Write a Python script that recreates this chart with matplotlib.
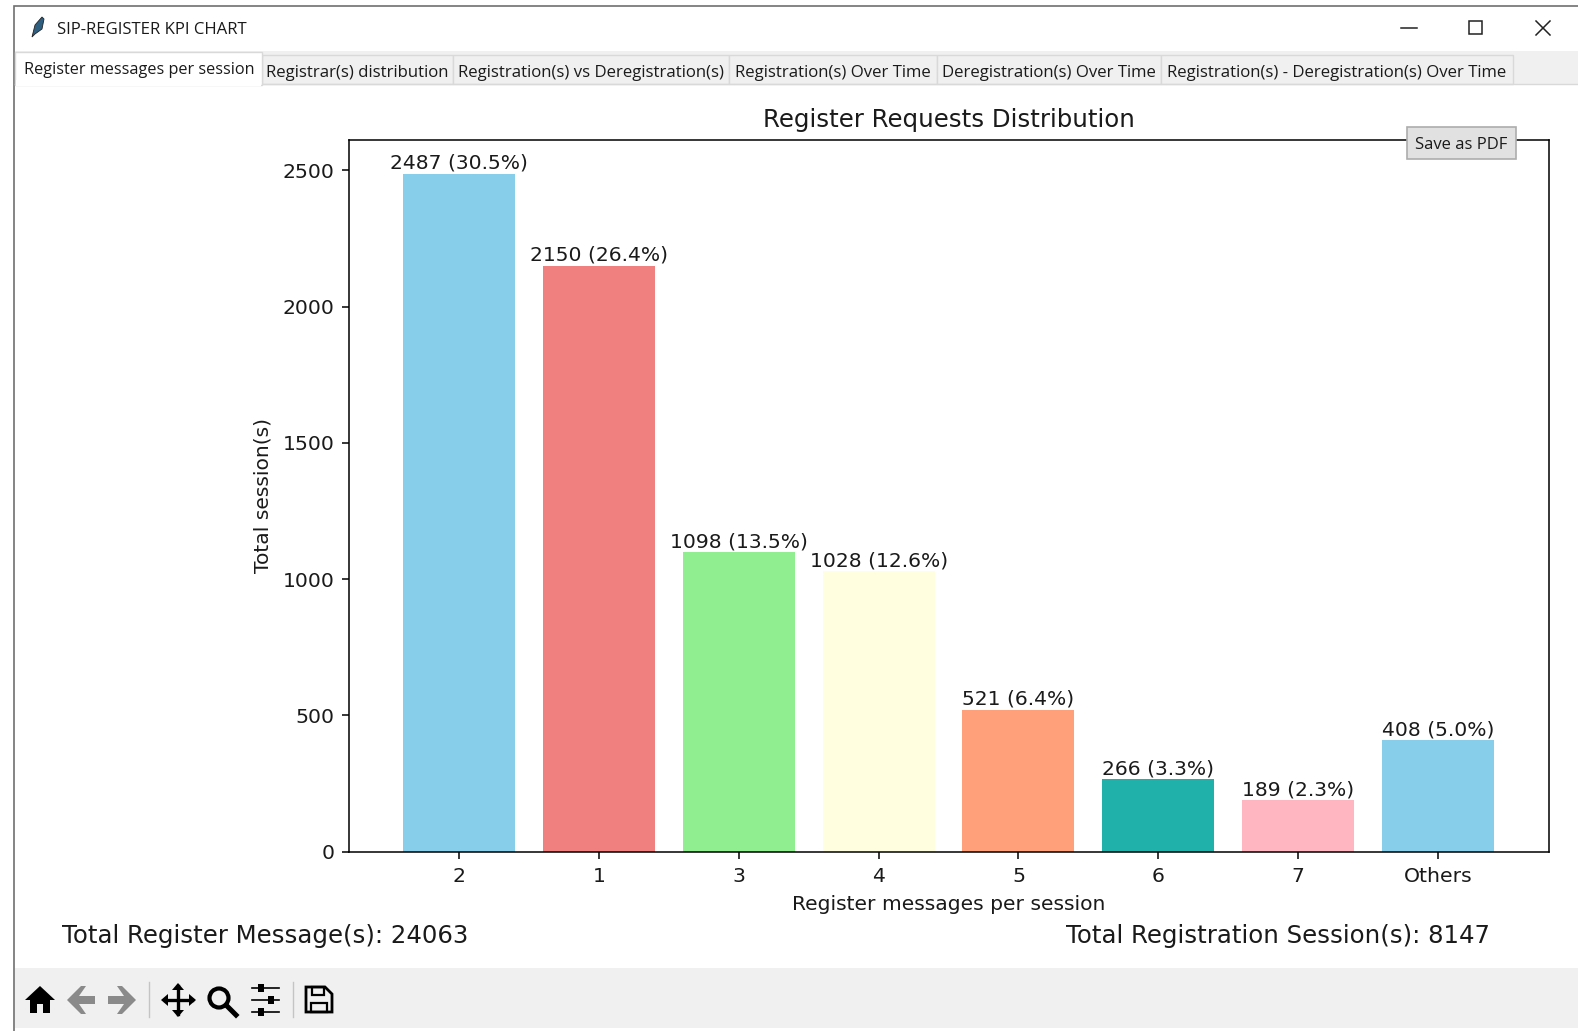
import matplotlib
matplotlib.use("Agg")
import matplotlib.pyplot as plt
from matplotlib.patches import Rectangle, Polygon, Circle

W, H = 1578, 1031

categories = ["2", "1", "3", "4", "5", "6", "7", "Others"]
sessions = [2487, 2150, 1098, 1028, 521, 266, 189, 408]
percents = [30.5, 26.4, 13.5, 12.6, 6.4, 3.3, 2.3, 5.0]
bar_colors = ["skyblue", "lightcoral", "lightgreen", "lightyellow",
              "lightsalmon", "lightseagreen", "lightpink", "skyblue"]
yticks = [0, 500, 1000, 1500, 2000, 2500]
total_messages = 24063
total_sessions = 8147

# tab label, left edge, right edge
tabs = [("Registrar(s) distribution", 262, 453),
        ("Registration(s) vs Deregistration(s)", 453, 729),
        ("Registration(s) Over Time", 729, 937),
        ("Deregistration(s) Over Time", 937, 1161),
        ("Registration(s) - Deregistration(s) Over Time", 1161, 1513)]

UI_FONT = ["Open Sans", "DejaVu Sans"]
INK = "#1a1a1a"

fig = plt.figure(figsize=(W / 100, H / 100), dpi=100)

# window chrome lives in an axes measured in pixels
ui = fig.add_axes([0, 0, 1, 1], zorder=0)
ui.set_xlim(0, W)
ui.set_ylim(H, 0)
ui.axis("off")

ui.add_patch(Rectangle((14, 6), W, H, fc="white", ec="#707070", lw=1.2))
ui.add_patch(Rectangle((15, 51), W, 33, fc="#f0f0f0", ec="none"))
ui.add_patch(Rectangle((15, 84), W, 884, fc="white", ec="none"))
ui.plot([15, W], [84, 84], color="#d9d9d9", lw=1)

# title bar
ui.add_patch(Polygon([[32, 37], [35, 25], [42, 17], [44, 19], [42, 29], [35, 34]],
                     fc="#2f5f80", ec="#222222", lw=0.6))
ui.text(57, 30, "SIP-REGISTER KPI CHART", fontsize=12.05, family=UI_FONT, va="center", color=INK)
ui.plot([1401, 1417], [28, 28], color="#222222", lw=1.1)
ui.add_patch(Rectangle((1469, 21), 13, 13, fc="none", ec="#222222", lw=1.1))
ui.plot([1536, 1550], [21, 35], color="#222222", lw=1.1)
ui.plot([1536, 1550], [35, 21], color="#222222", lw=1.1)

# tabs
ui.add_patch(Rectangle((15, 52), 247, 33, fc="white", ec="#d9d9d9", lw=1, zorder=3))
ui.add_patch(Rectangle((16, 80), 245, 6, fc="white", ec="none", zorder=3))
ui.text(139, 70, "Register messages per session", fontsize=11.7, family=UI_FONT, ha="center", va="center", color=INK, zorder=4)
for label, left, right in tabs:
    ui.add_patch(Rectangle((left, 55), right - left, 29, fc="#f0f0f0", ec="#d9d9d9", lw=1))
    ui.text((left + right) / 2, 73, label, fontsize=12.05, family=UI_FONT, ha="center", va="center", color=INK)

# toolbar
ui.add_patch(Rectangle((15, 968), W, 60, fc="#f0f0f0", ec="none"))
ui.add_patch(Polygon([[25, 1000], [40, 986], [55, 1000], [50, 1000], [50, 1013], [43, 1013], [43, 1004],
                      [37, 1004], [37, 1013], [30, 1013], [30, 1000]], fc="black", ec="none"))
ui.add_patch(Polygon([[67, 1000], [81, 986], [86, 986], [79, 996], [95, 996], [95, 1004], [79, 1004], [86, 1014], [81, 1014]],
                     fc="#8a8a8a", ec="none"))
ui.add_patch(Polygon([[136, 1000], [122, 986], [117, 986], [124, 996], [108, 996], [108, 1004], [124, 1004], [117, 1014], [122, 1014]],
                     fc="#8a8a8a", ec="none"))
ui.plot([149, 149], [982, 1017], color="#c4c4c4", lw=1)
ui.plot([293, 293], [982, 1017], color="#c4c4c4", lw=1)
ui.plot([165, 192], [1000, 1000], color="black", lw=2.4)
ui.plot([178, 178], [986, 1014], color="black", lw=2.4)
for pts in ([[161, 1000], [168, 994], [168, 1006]], [[196, 1000], [189, 994], [189, 1006]],
            [[178, 983], [172, 990], [184, 990]], [[178, 1017], [172, 1010], [184, 1010]]):
    ui.add_patch(Polygon(pts, fc="black", ec="none"))
ui.add_patch(Circle((219, 998), 9.5, fc="none", ec="black", lw=3))
ui.plot([226, 236], [1005, 1015], color="black", lw=3.6)
for y, kx in ((988, 261), (1000, 271), (1012, 261)):
    ui.plot([252, 279], [y, y], color="black", lw=1.2)
    ui.add_patch(Rectangle((kx - 3, y - 4), 6, 8, fc="black", ec="none"))
ui.add_patch(Polygon([[306, 987], [325, 987], [332, 994], [332, 1012], [306, 1012]], fc="none", ec="black", lw=2.0))
ui.add_patch(Rectangle((312, 987), 12, 8, fc="none", ec="black", lw=1.6))
ui.add_patch(Rectangle((311, 1003), 16, 9, fc="none", ec="black", lw=1.6))

# the chart
ax = fig.add_axes([348.5 / W, 1 - 851.5 / H, (1548.5 - 348.5) / W, (851.5 - 140) / H], zorder=1)
ax.patch.set_alpha(0)
x = range(len(categories))
ax.bar(x, sessions, color=bar_colors)
ax.set_xticks(list(x), categories)
ax.set_yticks(yticks)
ax.tick_params(labelsize=14.7, length=5, width=1.1, labelcolor=INK)
ax.tick_params(axis="x", pad=6.5)
ax.tick_params(axis="y", pad=5)
for spine in ax.spines.values():
    spine.set_linewidth(1.1)
for i, (n, p) in enumerate(zip(sessions, percents)):
    ax.annotate(f"{n} ({p:.1f}%)", (i, n), xytext=(0, 0.7), textcoords="offset points",
                ha="center", va="bottom", fontsize=14.6, color=INK)
ax.set_title("Register Requests Distribution", fontsize=17.6, pad=9, color=INK)
ax.set_xlabel("Register messages per session", fontsize=14.6, labelpad=6, color=INK)
ax.set_ylabel("Total session(s)", fontsize=14.6, labelpad=7.5, color=INK)

fig.text(62 / W, 1 - 936 / H, f"Total Register Message(s): {total_messages}", fontsize=17.6, va="center", color=INK)
fig.text(1066 / W, 1 - 936 / H, f"Total Registration Session(s): {total_sessions}", fontsize=17.6, va="center", color=INK)

# button sits on top of the chart frame
btn = fig.add_axes([0, 0, 1, 1], zorder=2)
btn.set_xlim(0, W)
btn.set_ylim(H, 0)
btn.axis("off")
btn.add_patch(Rectangle((1407, 127), 109, 32, fc="#e1e1e1", ec="#adadad", lw=1.2))
btn.text(1461.5, 145, "Save as PDF", fontsize=12, family=UI_FONT, ha="center", va="center", color=INK)

fig.savefig("out.png", dpi=100)
